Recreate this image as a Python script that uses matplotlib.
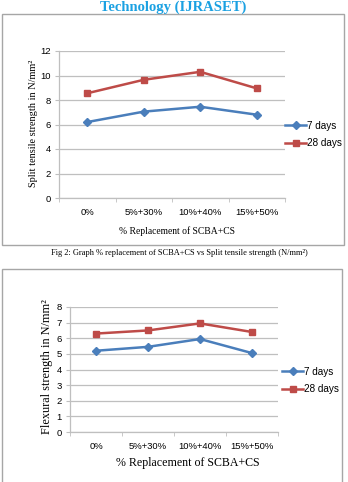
import matplotlib
matplotlib.use("Agg")
import matplotlib.pyplot as plt
from matplotlib.patches import Rectangle

W, H = 348, 482
categories = ["0%", "5%+30%", "10%+40%", "15%+50%"]
split_7 = [6.2, 7.05, 7.45, 6.8]
split_28 = [8.55, 9.65, 10.3, 8.95]
flex_7 = [5.2, 5.45, 5.95, 5.05]
flex_28 = [6.3, 6.5, 6.95, 6.4]
series_names = ["7 days", "28 days"]

BLUE = "#4A7EBB"
RED = "#BE4B48"
GRID = "#BFBFBF"
SANS = ["Liberation Sans Narrow", "Liberation Sans", "DejaVu Sans"]
SERIF = ["Liberation Serif", "DejaVu Serif"]

fig = plt.figure(figsize=(W / 100, H / 100), dpi=100)
fig.patch.set_facecolor("white")


def rect(x0, y0, x1, y1):
    return [x0 / W, 1 - y1 / H, (x1 - x0) / W, (y1 - y0) / H]


def fx(x):
    return x / W


def fy(y):
    return 1 - y / H


# outer boxes
for (x0, y0, x1, y1) in [(2, 14, 344, 245), (2, 269, 342, 490)]:
    fig.patches.append(Rectangle((fx(x0), fy(y1)), fx(x1) - fx(x0), fy(y0) - fy(y1),
                                 transform=fig.transFigure, fill=False,
                                 edgecolor="#A6A6A6", lw=1.0))


def draw(ax, s7, s28, ymax, ystep, leg_xy, xpad):
    x = list(range(len(categories)))
    ax.plot(x, s7, color=BLUE, marker="D", markersize=4, lw=1.8, label=series_names[0])
    ax.plot(x, s28, color=RED, marker="s", markersize=5, lw=1.8, label=series_names[1])
    ax.set_xlim(-0.5, len(categories) - 0.5)
    ax.set_ylim(0, ymax)
    ax.set_yticks(range(0, ymax + 1, ystep))
    ax.set_xticks(x)
    ax.set_xticklabels(categories, family=SANS, fontsize=6.8)
    ax.set_xticks([i - 0.5 for i in range(len(categories) + 1)], minor=True)
    ax.tick_params(axis="x", which="major", length=0, pad=xpad)
    ax.tick_params(axis="x", which="minor", length=3, color=GRID, direction="out")
    ax.tick_params(axis="y", length=3, color=GRID, pad=3, labelsize=6.8)
    for lab in ax.get_yticklabels():
        lab.set_family(SANS)
    ax.grid(axis="y", color=GRID, lw=0.9)
    ax.set_axisbelow(True)
    for s in ["top", "right"]:
        ax.spines[s].set_visible(False)
    for s in ["left", "bottom"]:
        ax.spines[s].set_color(GRID)
        ax.spines[s].set_linewidth(0.9)
    leg = ax.legend(loc="center left", bbox_to_anchor=leg_xy, bbox_transform=fig.transFigure,
                    frameon=False, handlelength=2.1, handletextpad=0.1, labelspacing=0.75,
                    borderpad=0, borderaxespad=0,
                    prop={"family": SANS, "size": 7.2})
    return leg


ax1 = fig.add_axes(rect(59, 51, 285, 198))
draw(ax1, split_7, split_28, 12, 2, (fx(285), fy(134.5)), 7)
fig.text(fx(33), fy(123), "Split tensile strength in N/mm\u00b2", rotation=90,
         ha="center", va="center", family=SERIF, fontsize=7.4)
fig.text(fx(177), fy(231), "% Replacement of SCBA+CS", ha="center", va="center",
         family=SERIF, fontsize=6.9)

ax2 = fig.add_axes(rect(70, 307, 278, 432))
draw(ax2, flex_7, flex_28, 8, 1, (fx(282), fy(380.5)), 7)
fig.text(fx(47), fy(367), "Flexural strength in N/mm\u00b2", rotation=90,
         ha="center", va="center", family=SERIF, fontsize=8.8)
fig.text(fx(188), fy(463), "% Replacement of SCBA+CS", ha="center", va="center",
         family=SERIF, fontsize=8.6)

fig.text(fx(179), fy(253), "Fig 2: Graph % replacement of SCBA+CS vs Split tensile strength (N/mm\u00b2)",
         ha="center", va="center", family=SERIF, fontsize=6.0)
fig.text(fx(173), fy(0.5), "Technology (IJRASET)", ha="center", va="top",
         family=SERIF, fontsize=10.5, fontweight="bold", color="#1BA1E2")

fig.savefig("out.png", dpi=100)
